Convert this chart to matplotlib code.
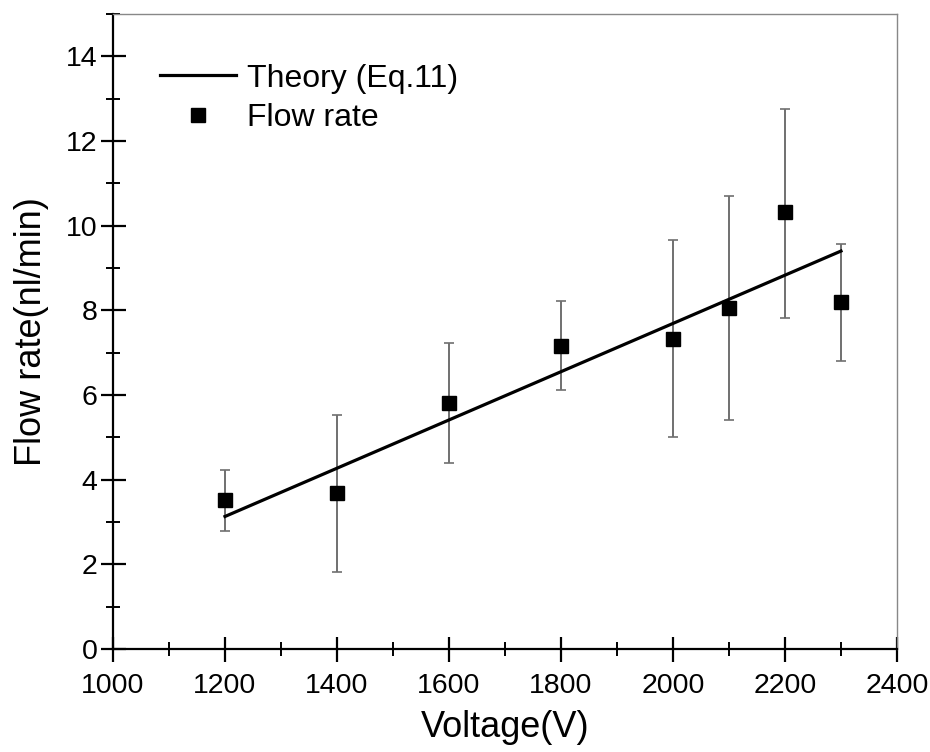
import matplotlib
matplotlib.use("Agg")
import matplotlib.pyplot as plt
import numpy as np

plt.rcParams["font.family"] = ["Liberation Sans", "DejaVu Sans"]

VOLTAGE = [1200, 1400, 1600, 1800, 2000, 2100, 2200, 2300]
FLOW = [3.52, 3.68, 5.81, 7.15, 7.32, 8.05, 10.32, 8.19]
ERR_HI = [4.22, 5.52, 7.22, 8.21, 9.65, 10.70, 12.75, 9.56]
ERR_LO = [2.78, 1.81, 4.39, 6.11, 5.00, 5.42, 7.83, 6.81]

THEORY_V = [1200, 2300]
THEORY_Q = [3.13, 9.40]

flow = np.array(FLOW)
yerr = [flow - np.array(ERR_LO), np.array(ERR_HI) - flow]

fig = plt.figure(figsize=(9.3, 7.52), dpi=100)
ax = fig.add_axes([0.1215, 0.137, 0.843, 0.8444])

line, = ax.plot(THEORY_V, THEORY_Q, color="black", lw=2.3, zorder=3)
ax.errorbar(VOLTAGE, FLOW, yerr=yerr, fmt="none", ecolor="#707070",
            elinewidth=1.4, capsize=3.5, capthick=1.2, zorder=2)
pts, = ax.plot(VOLTAGE, FLOW, "s", color="black", ms=9.5, zorder=4)

ax.set_xlim(1000, 2400)
ax.set_ylim(0, 15)
ax.set_xticks(np.arange(1000, 2401, 200))
ax.set_xticks(np.arange(1100, 2400, 200), minor=True)
ax.set_yticks(np.arange(0, 15, 2))
ax.set_yticks(np.arange(1, 16, 2), minor=True)

for s in ("left", "bottom"):
    ax.spines[s].set_linewidth(1.6)
    ax.spines[s].set_color("black")
for s in ("top", "right"):
    ax.spines[s].set_linewidth(1.0)
    ax.spines[s].set_color("#888888")

ax.tick_params(which="major", direction="inout", length=18, width=1.6,
               labelsize=20.5, pad=2)
ax.tick_params(axis="x", which="major", pad=8)
ax.tick_params(which="minor", direction="inout", length=10, width=1.4)

ax.set_xlabel("Voltage(V)", fontsize=26, labelpad=8)
ax.set_ylabel("Flow rate(nl/min)", fontsize=26, labelpad=12)

ax.legend([line, pts], ["Theory (Eq.11)", "Flow rate"], loc="upper left",
          frameon=False, fontsize=23, handlelength=2.4, handletextpad=0.35,
          labelspacing=0.3, bbox_to_anchor=(0.035, 0.952), borderaxespad=0.2)

fig.savefig("out.png", dpi=100)
